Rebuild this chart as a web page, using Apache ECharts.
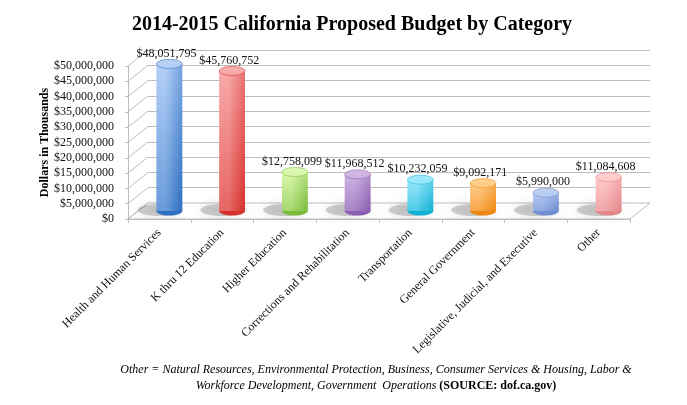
<!DOCTYPE html>
<html>
<head>
<meta charset="utf-8">
<script src="https://cdn.jsdelivr.net/npm/echarts@6.0.0/dist/echarts.min.js"></script>
<style>
  html, body { margin: 0; padding: 0; background: #fff; }
  #main { width: 687px; height: 405px; }
</style>
</head>
<body>
<div id="main"></div>
<script>
// 分类
var categories = ['Health and Human Services', 'K thru 12 Education', 'Higher Education',
  'Corrections and Rehabilitation', 'Transportation', 'General Government',
  'Legislative, Judicial, and Executive', 'Other'];
// 预算值（千美元）
var budget = [48051795, 45760752, 12758099, 11968512, 10232059, 9092171, 5990000, 11084608];
// y轴刻度
var yTicks = [0, 5000000, 10000000, 15000000, 20000000, 25000000, 30000000, 35000000, 40000000, 45000000, 50000000];
// 圆柱颜色 [顶部, 底部]
var colors = [
  ['#b4d0f8', '#2c6fc0'],
  ['#f8aaaa', '#d8302c'],
  ['#daf8ae', '#7abb3a'],
  ['#cdb4e2', '#8a5eb0'],
  ['#98e8fb', '#12b2d4'],
  ['#ffcc88', '#ef8812'],
  ['#b8ccf2', '#6e8ed0'],
  ['#ffcaca', '#e4878b']
];

var serif = "'Liberation Serif', 'Times New Roman', serif";
var gridColor = '#bdbdbd';
// 3D深度偏移
var depthX = 20, depthY = 16;

function money(v) {
  return '$' + String(v).replace(/\B(?=(\d{3})+(?!\d))/g, ',');
}

var chart = echarts.init(document.getElementById('main'));

var option = {
  backgroundColor: '#fff',
  animation: false,
  title: {
    text: '2014-2015 California Proposed Budget by Category',
    left: 347,
    textAlign: 'center',
    top: 10,
    textStyle: { fontFamily: serif, fontSize: 20, fontWeight: 'bold', color: '#000' }
  },
  graphic: [{
    type: 'text',
    x: 376,
    y: 362,
    style: {
      text: '{i|Other = Natural Resources, Environmental Protection, Business, Consumer Services & Housing, Labor &}\n' +
            '{i|Workforce Development, Government  Operations }{b|(SOURCE: dof.ca.gov)}',
      align: 'center',
      lineHeight: 16,
      rich: {
        i: { fontFamily: serif, fontStyle: 'italic', fontSize: 12, color: '#111', lineHeight: 16 },
        b: { fontFamily: serif, fontWeight: 'bold', fontSize: 12, color: '#111', lineHeight: 16 }
      }
    }
  }],
  grid: [
    // 后墙
    { left: 128 + depthX, width: 502, top: 66 - depthY, height: 153 },
    // 圆柱所在平面
    { left: 128 + depthX / 2, width: 502, top: 66 - depthY / 2, height: 153 },
    // 前平面（坐标轴标签）
    { left: 128, width: 502, top: 66, height: 153 }
  ],
  xAxis: [
    { gridIndex: 0, type: 'value', min: 0, max: categories.length, show: false },
    { gridIndex: 1, type: 'category', data: categories, show: false },
    {
      gridIndex: 2, type: 'category', data: categories,
      axisLine: { show: true, lineStyle: { color: gridColor } },
      axisTick: { show: true, length: 4, lineStyle: { color: gridColor } },
      axisLabel: { rotate: 45, interval: 0, margin: 12, fontFamily: serif, fontSize: 12, color: '#111' }
    }
  ],
  yAxis: [
    { gridIndex: 0, type: 'value', min: 0, max: 50000000, interval: 5000000,
      axisLabel: { show: false }, axisLine: { show: false }, axisTick: { show: false },
      splitLine: { show: true, lineStyle: { color: gridColor } } },
    { gridIndex: 1, type: 'value', min: 0, max: 50000000, interval: 5000000, show: false, splitLine: { show: false } },
    {
      gridIndex: 2, type: 'value', min: 0, max: 50000000, interval: 5000000,
      name: 'Dollars in Thousands', nameLocation: 'middle', nameGap: 77, nameMoveOverlap: false,
      nameTextStyle: { fontFamily: serif, fontSize: 12, fontWeight: 'bold', color: '#000' },
      axisLine: { show: true, lineStyle: { color: gridColor } },
      axisTick: { show: true, length: 3, lineStyle: { color: gridColor } },
      splitLine: { show: false },
      axisLabel: { margin: 14, fontFamily: serif, fontSize: 12, color: '#111', formatter: money }
    }
  ],
  series: [
    // 地板
    {
      type: 'custom', xAxisIndex: 0, yAxisIndex: 0, silent: true, z: 1,
      data: [[0, 0]],
      renderItem: function (params, api) {
        var a = api.coord([0, 0]);
        var b = api.coord([categories.length, 0]);
        return {
          type: 'polygon',
          shape: { points: [a, b, [b[0] - depthX, b[1] + depthY], [a[0] - depthX, a[1] + depthY]] },
          style: { fill: '#fff', stroke: gridColor, lineWidth: 1 }
        };
      }
    },
    // 左侧墙斜线
    {
      type: 'custom', xAxisIndex: 0, yAxisIndex: 0, silent: true, z: 2,
      data: yTicks.map(function (v) { return [0, v]; }),
      renderItem: function (params, api) {
        var p = api.coord([0, api.value(1)]);
        return {
          type: 'line',
          shape: { x1: p[0], y1: p[1], x2: p[0] - depthX, y2: p[1] + depthY },
          style: { stroke: gridColor, lineWidth: 1 }
        };
      }
    },
    // 圆柱
    {
      type: 'custom', xAxisIndex: 1, yAxisIndex: 1, z: 5,
      data: budget.map(function (v, i) { return [i, v]; }),
      renderItem: function (params, api) {
        var idx = api.value(0), val = api.value(1);
        var top = api.coord([idx, val]);
        var base = api.coord([idx, 0]);
        var w = api.size([1, 0])[0] * 0.41;
        var rx = w / 2, ry = 4.5;
        var c = colors[idx];
        var bodyFill = new echarts.graphic.LinearGradient(0, 0, 1, 0, [
          { offset: 0, color: c[0] },
          { offset: 0.35, color: c[0] },
          { offset: 1, color: c[1] }
        ]);
        var vert = new echarts.graphic.LinearGradient(0, 0, 0, 1, [
          { offset: 0, color: c[0] },
          { offset: 1, color: c[1] }
        ]);
        return {
          type: 'group',
          children: [
            {
              type: 'ellipse',
              shape: { cx: base[0] - 10, cy: base[1] - 1, rx: rx + 9, ry: 6 },
              style: { fill: 'rgba(110,110,110,0.3)', shadowBlur: 9, shadowColor: 'rgba(0,0,0,0.4)' }
            },
            {
              type: 'ellipse',
              shape: { cx: base[0], cy: base[1], rx: rx, ry: ry },
              style: { fill: c[1] }
            },
            {
              type: 'rect',
              shape: { x: top[0] - rx, y: top[1], width: w, height: base[1] - top[1] },
              style: { fill: vert }
            },
            {
              type: 'rect',
              shape: { x: top[0] - rx, y: top[1], width: w, height: base[1] - top[1] },
              style: { fill: bodyFill, opacity: 0.45 }
            },
            {
              type: 'ellipse',
              shape: { cx: top[0], cy: top[1], rx: rx, ry: ry },
              style: { fill: c[0], stroke: c[1], lineWidth: 0.6, opacity: 0.95 }
            },
            {
              type: 'text',
              x: top[0] - 3,
              y: top[1] - ry,
              style: {
                text: money(val), align: 'center', verticalAlign: 'bottom',
                fontFamily: serif, fontSize: 12, fill: '#111'
              }
            }
          ]
        };
      }
    }
  ]
};

chart.setOption(option);
</script>
</body>
</html>
